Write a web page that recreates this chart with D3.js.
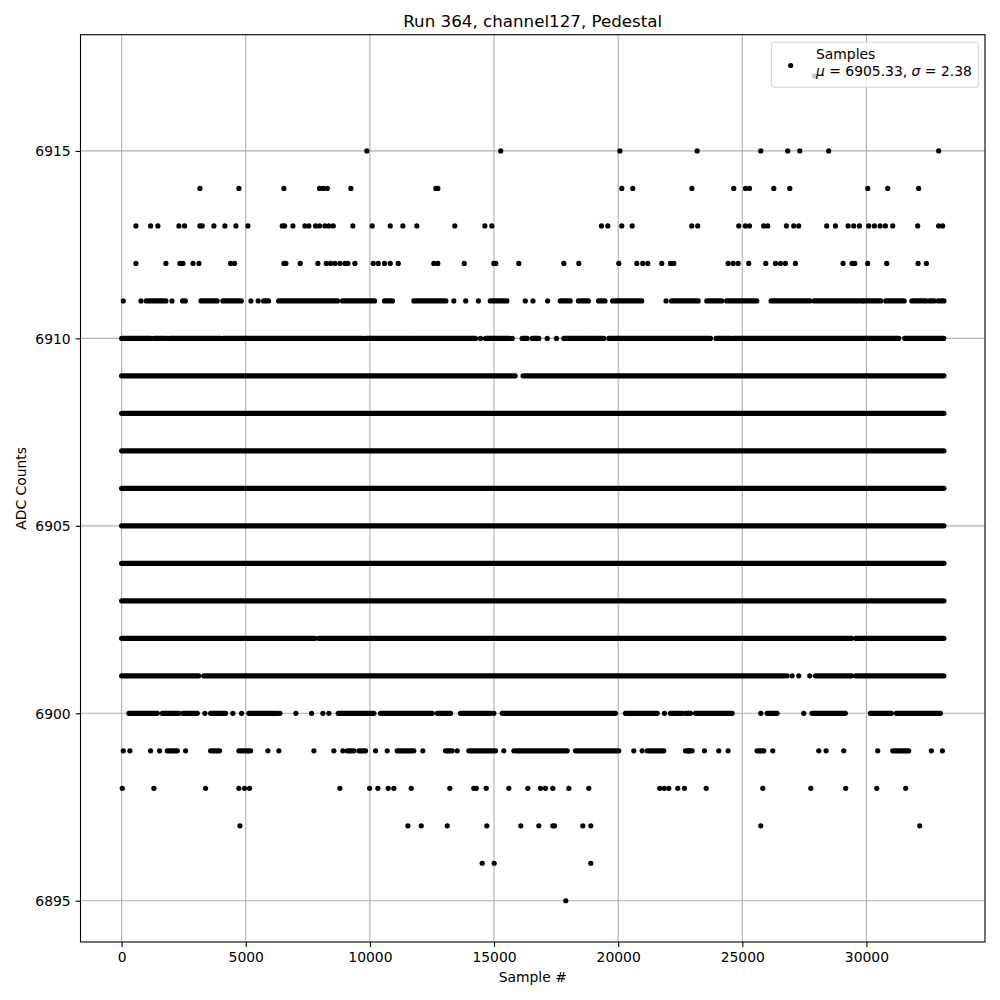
<!DOCTYPE html>
<html>
<head>
<meta charset="utf-8">
<script src="https://cdn.jsdelivr.net/npm/d3@7"></script>
<style>
  html, body { margin: 0; padding: 0; background: #fff; }
  svg { display: block; font-family: "DejaVu Sans", sans-serif; }
</style>
</head>
<body>
<svg id="chart" width="1000" height="1000"></svg>
<script>
// ---------------- data ----------------
const title = "Run 364, channel127, Pedestal";
const xLabel = "Sample #";
const yLabel = "ADC Counts";
const xTicks = [0, 5000, 10000, 15000, 20000, 25000, 30000];
const yTicks = [6895, 6900, 6905, 6910, 6915];
const legendLabel = "Samples";
const legendMu = "6905.33";
const legendSigma = "2.38";

// isolated samples (sample number) per ADC level
const pts6917 = [27900];
const pts6915 = [9880, 15270, 20070, 23180, 25745, 26830, 27315, 28480, 32910];
const pts6914 = [3154, 4724, 6536, 7973, 8122, 8283, 9233, 12657, 12737, 20146, 20590, 22970, 24656, 25127, 25288, 26268, 26912, 30052, 30857, 32105];
const pts6913 = [577, 1168, 1462, 2308, 2537, 3154, 3248, 3718, 4160, 4604, 5087, 6470, 6564, 6899, 7382, 7543, 7812, 7973, 8188, 8349, 8525, 9314, 10095, 10820, 11327, 11891, 13421, 14630, 14912, 19329, 19583, 20146, 20565, 22965, 23206, 24857, 25127, 25288, 25861, 26022, 26778, 27072, 27274, 28401, 28751, 29262, 29489, 29718, 30092, 30321, 30551, 30764, 31059, 32065, 32911, 33072];
const pts6912 = [577, 1784, 2348, 2468, 2871, 3113, 4389, 4550, 6536, 6617, 7195, 7906, 8243, 8416, 8590, 8791, 8993, 9113, 9395, 10135, 10336, 10590, 10820, 11142, 12576, 12737, 13800, 14993, 15072, 15998, 17811, 18415, 20026, 20750, 20992, 21194, 21757, 22107, 22240, 24430, 24632, 24833, 25260, 25945, 26335, 26536, 26737, 27140, 29060, 29422, 29529, 30052, 30817, 32081, 32415];
const pts6911 = [67, 780, 2030, 5210, 5500, 13380, 13860, 14370, 16260, 16570, 17160, 21930];
const pts6910 = [14456, 15733, 17142, 17517];
const pts6901 = [26806, 27007, 27274, 27717];
const pts6900 = [3354, 4482, 4832, 6375, 7019, 7651, 8106, 8349, 14993, 21866, 22845, 25745, 27475];
const pts6899 = [67, 334, 1168, 1530, 2577, 5891, 6334, 7744, 8549, 8911, 10228, 10699, 12133, 13518, 15394, 20630, 20967, 22845, 23476, 24053, 24430, 26227, 28080, 28377, 29086, 30455, 32617, 33060];
const pts6898 = [27, 1300, 3382, 4724, 4953, 5154, 8791, 9987, 10321, 10739, 10966, 11666, 13220, 14186, 14283, 14686, 15596, 16361, 16872, 17073, 17368, 18012, 18817, 21676, 21860, 22040, 22401, 22670, 23545, 25825, 27757, 29166, 30415, 31582];
const pts6897 = [4765, 11530, 12069, 13116, 14711, 16080, 16804, 17368, 17436, 18576, 18898, 25745, 32146];
const pts6896 = [14524, 15007, 18898];
const pts6895 = [17891];

// runs of consecutive samples (first, last) where points overlap into a solid band
const runs6911 = [[990,1785],[2455,2565],[3200,3845],[4080,4820],[5720,5920],[6325,8700],[8900,10190],[10590,10910],[11770,13060],[14850,15520],[17670,18070],[18400,18800],[19210,19470],[19780,20950],[22150,23225],[23570,24170],[24370,25580],[26160,27730],[27900,29850],[29910,30580],[30780,31520],[31830,32400],[32530,32730],[32890,33120]];
const runs6910 = [[0,1168],[1300,1800],[1933,3451],[3515,3987],[4095,9692],[9797,11637],[11706,14255],[14658,15596],[16135,16336],[16538,16804],[17811,18753],[18817,19422],[19623,23718],[23947,24523],[24616,31300],[31542,33110]];
const runs6909 = [[0,15850],[16170,33120]];
const runs6908 = [[0,33120]];
const runs6907 = [[0,33120]];
const runs6906 = [[0,33120]];
const runs6905 = [[0,33120]];
const runs6904 = [[0,33120]];
const runs6903 = [[0,33120]];
const runs6902 = [[0,7790],[7930,29400],[29560,33120]];
const runs6901 = [[0,3110],[3310,26700],[27946,29400],[29560,33120]];
const runs6900 = [[295,1437],[1638,2308],[2468,3048],[3584,4188],[5127,6270],[8726,10160],[10430,12511],[12713,13248],[13650,14860],[15330,19890],[20295,21572],[22107,22580],[22711,22913],[23114,24590],[26000,26400],[27810,29150],[30160,31000],[31200,32980]];
const runs6899 = [[1840,2243],[3584,3946],[4724,5195],[9090,9354],[9556,9825],[11100,11770],[13047,13317],[13985,15060],[15800,17947],[18281,20025],[21169,21838],[22711,22980],[25598,25865],[31059,31703]];

// ---------------- build tables ----------------
const pointTable = [
  [6917, pts6917], [6915, pts6915], [6914, pts6914], [6913, pts6913], [6912, pts6912],
  [6911, pts6911], [6910, pts6910], [6901, pts6901], [6900, pts6900], [6899, pts6899],
  [6898, pts6898], [6897, pts6897], [6896, pts6896], [6895, pts6895]
].flatMap(([adc, xs]) => xs.map(s => ({x: s, y: adc})));

const runTable = [
  [6911, runs6911], [6910, runs6910], [6909, runs6909], [6908, runs6908], [6907, runs6907],
  [6906, runs6906], [6905, runs6905], [6904, runs6904], [6903, runs6903], [6902, runs6902],
  [6901, runs6901], [6900, runs6900], [6899, runs6899]
].flatMap(([adc, rs]) => rs.map(r => ({x0: r[0], x1: r[1], y: adc})));

// ---------------- layout ----------------
const svg = d3.select("#chart");
const L = 80.5, R = 985, T = 34.7, B = 942;

const allX = pointTable.map(d => d.x).concat(runTable.flatMap(d => [d.x0, d.x1]));
const allY = pointTable.map(d => d.y).concat(runTable.map(d => d.y));
const [xmin, xmax] = d3.extent(allX);
const [ymin, ymax] = d3.extent(allY);
const xpad = (xmax - xmin) * 0.05, ypad = (ymax - ymin) * 0.05;

const x = d3.scaleLinear().domain([xmin - xpad, xmax + xpad]).range([L, R]);
const y = d3.scaleLinear().domain([ymin - ypad, ymax + ypad]).range([B, T]);

const FS = 13.9;

// grid
const grid = svg.append("g");
grid.selectAll("line.gx").data(xTicks).join("line")
  .attr("x1", d => x(d)).attr("x2", d => x(d)).attr("y1", T).attr("y2", B)
  .attr("stroke", "#b0b0b0").attr("stroke-width", 1.1);
grid.selectAll("line.gy").data(yTicks).join("line")
  .attr("y1", d => y(d)).attr("y2", d => y(d)).attr("x1", L).attr("x2", R)
  .attr("stroke", "#b0b0b0").attr("stroke-width", 1.1);

// data
const marks = svg.append("g");
marks.selectAll("line.run").data(runTable).join("line")
  .attr("x1", d => x(d.x0)).attr("x2", d => x(d.x1))
  .attr("y1", d => y(d.y)).attr("y2", d => y(d.y))
  .attr("stroke", "#000").attr("stroke-width", 5.2).attr("stroke-linecap", "round");
marks.selectAll("circle.pt").data(pointTable).join("circle")
  .attr("cx", d => x(d.x)).attr("cy", d => y(d.y)).attr("r", 2.6).attr("fill", "#000");

// axes (d3 axes, styled like matplotlib)
const xAxis = svg.append("g").attr("transform", `translate(0,${B})`)
  .call(d3.axisBottom(x).tickValues(xTicks).tickFormat(d3.format("d")).tickSizeOuter(0).tickSizeInner(4.9).tickPadding(4.9));
const yAxis = svg.append("g").attr("transform", `translate(${L},0)`)
  .call(d3.axisLeft(y).tickValues(yTicks).tickFormat(d3.format("d")).tickSizeOuter(0).tickSizeInner(4.9).tickPadding(4.9));
[xAxis, yAxis].forEach(g => {
  g.select(".domain").remove();
  g.selectAll(".tick line").attr("stroke", "#000").attr("stroke-width", 1.1);
  g.selectAll(".tick text").attr("fill", "#000").attr("font-size", FS).attr("font-family", "DejaVu Sans");
});
xAxis.selectAll(".tick text").attr("dy", null).attr("y", 20);
yAxis.selectAll(".tick text").attr("dy", null).attr("y", 5);

// spines
svg.append("rect").attr("x", L).attr("y", T).attr("width", R - L).attr("height", B - T)
  .attr("fill", "none").attr("stroke", "#000").attr("stroke-width", 1.1);

// title & labels
svg.append("text").attr("x", (L + R) / 2).attr("y", 26.7).attr("text-anchor", "middle")
  .attr("font-size", 16.7).text(title);
svg.append("text").attr("x", (L + R) / 2).attr("y", 982).attr("text-anchor", "middle")
  .attr("font-size", FS).text(xLabel);
svg.append("text").attr("transform", `translate(25.5,${(T + B) / 2}) rotate(-90)`).attr("text-anchor", "middle")
  .attr("font-size", FS).text(yLabel);

// legend
const lg = svg.append("g");
lg.append("rect").attr("x", 771.5).attr("y", 42.3).attr("width", 206.8).attr("height", 45).attr("rx", 3)
  .attr("fill", "#fff").attr("fill-opacity", 0.8).attr("stroke", "#cccccc").attr("stroke-opacity", 0.8).attr("stroke-width", 1.1);
lg.append("circle").attr("cx", 790.7).attr("cy", 65.5).attr("r", 2.6).attr("fill", "#000");
lg.append("text").attr("x", 816).attr("y", 59).attr("font-size", FS).text(legendLabel);
const t2 = lg.append("text").attr("x", 816).attr("y", 75.5).attr("font-size", FS);
t2.append("tspan").attr("font-style", "italic").text("\u03bc");
t2.append("tspan").text(" = " + legendMu + ", ");
t2.append("tspan").attr("font-style", "italic").text("\u03c3");
t2.append("tspan").text(" = " + legendSigma);
</script>
</body>
</html>
